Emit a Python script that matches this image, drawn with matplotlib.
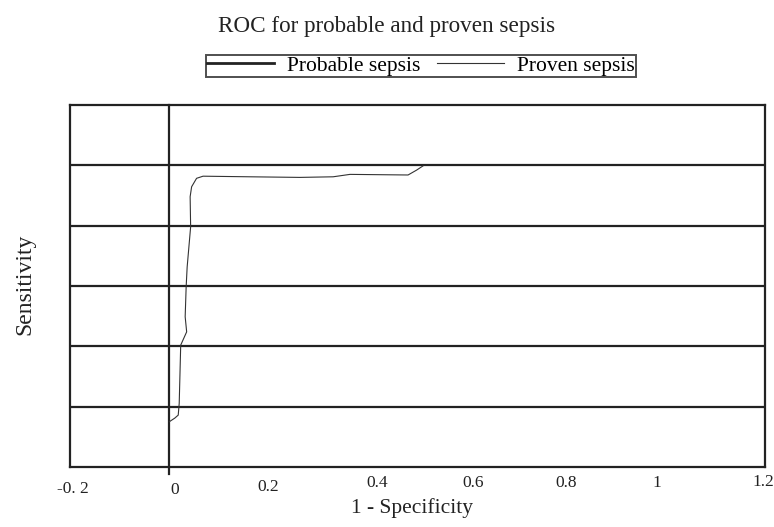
import matplotlib
matplotlib.use('Agg')
import matplotlib.pyplot as plt
from matplotlib.lines import Line2D
from matplotlib.transforms import ScaledTranslation

# proven sepsis ROC curve
fpr = [0.000, 0.011, 0.018, 0.020, 0.023, 0.035, 0.032, 0.034, 0.036, 0.043,
       0.042, 0.045, 0.055, 0.068, 0.163, 0.263, 0.330, 0.364, 0.481, 0.498, 0.511]
tpr = [0.150, 0.162, 0.172, 0.211, 0.404, 0.448, 0.498, 0.598, 0.663, 0.796,
       0.896, 0.929, 0.957, 0.964, 0.962, 0.960, 0.962, 0.970, 0.968, 0.984, 0.998]

x_ticks = [-0.2, 0, 0.2, 0.4, 0.6, 0.8, 1, 1.2]
x_tick_labels = ['-0. 2', '0', '0.2', '0.4', '0.6', '0.8', '1', '1.2']
y_grid = [0.2, 0.4, 0.6, 0.8, 1.0]

# the labels in the original wander a bit (pixels: right, down)
label_shift = [(3, 6), (5, 7), (0, 4), (9, 0), (6, 0), (0, 0), (-9, 0), (-2, -1)]

plt.rcParams['font.family'] = ['Liberation Serif', 'DejaVu Serif']

fig = plt.figure(figsize=(7.74, 5.27), dpi=100)
ax = fig.add_axes([70 / 774, 60 / 527, 695 / 774, 362 / 527])

ax.set_xlim(-0.2, 1.2)
ax.set_ylim(0, 1.2)

for y in y_grid:
    ax.axhline(y, color='#222222', lw=1.6, zorder=1)
ax.axvline(0, ymin=-0.018, ymax=1, color='#222222', lw=1.6, clip_on=False, zorder=1)

ax.plot(fpr, tpr, color='#333333', lw=0.8, zorder=3)

for side in ax.spines.values():
    side.set_linewidth(1.6)
    side.set_color('#222222')

ax.set_yticks([])
ax.set_xticks(x_ticks)
ax.set_xticklabels(x_tick_labels, fontsize=12.5, color='#222222')
ax.tick_params(axis='x', length=0, pad=6)
for lab, (dx, dy) in zip(ax.get_xticklabels(), label_shift):
    lab.set_transform(lab.get_transform() + ScaledTranslation(dx / 100, -dy / 100, fig.dpi_scale_trans))

ax.set_xlabel('1 - Specificity', fontsize=15.5, color='#222222')
ax.xaxis.set_label_coords(0.492, -0.085)
ax.set_ylabel('Sensitivity', fontsize=17, color='#222222')
ax.yaxis.set_label_coords(-0.05, 0.506)

fig.text(0.5, 1 - 32 / 527, 'ROC for probable and proven sepsis', fontsize=16.7,
         color='#222222', ha='center', va='baseline')

handles = [Line2D([], [], color='#222222', lw=2.0),
           Line2D([], [], color='#333333', lw=0.8)]
leg = fig.legend(handles, ['Probable sepsis', 'Proven sepsis'], ncol=2,
                 loc='center', bbox_to_anchor=(421 / 774, 1 - 66 / 527),
                 fontsize=15.5, frameon=True, fancybox=False, handlelength=3.1,
                 handletextpad=0.6, columnspacing=0.8, borderpad=0.05,
                 borderaxespad=0)
leg.get_frame().set_edgecolor('#222222')
leg.get_frame().set_linewidth(1.4)

fig.savefig('out.png', dpi=100)
